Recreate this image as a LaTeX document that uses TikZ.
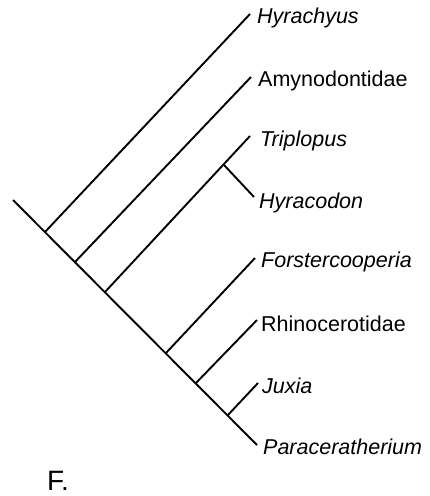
\documentclass[tikz,border=0pt]{standalone}
\usepackage{fontspec}
\setmainfont{Liberation Sans}
\begin{document}
\begin{tikzpicture}[x=1pt,y=-1pt,
  branch/.style={line width=1.9pt,line cap=butt},
  taxon/.style={anchor=base west,inner sep=0pt,font=\fontsize{21.5}{24}\selectfont},
  itaxon/.style={taxon,font=\fontsize{21.5}{24}\selectfont\itshape},
  panel/.style={anchor=base west,inner sep=0pt,font=\fontsize{28}{30}\selectfont}]
\useasboundingbox (0,0) rectangle (430,496);
% main stem
\coordinate (r) at (13,200);
\coordinate (p) at (257,445);
\coordinate (j1) at (45,232);
\coordinate (j2) at (75,262);
\coordinate (j3) at (105,292);
\coordinate (j4) at (166,353);
\coordinate (j5) at (196,383);
\coordinate (j6) at (228,415);
\coordinate (jh) at (224,165);
% tips
\coordinate (t1) at (250,14);
\coordinate (t2) at (251,77);
\coordinate (t3) at (250,136);
\coordinate (t4) at (254,197);
\coordinate (t5) at (255,258);
\coordinate (t6) at (257,320);
\coordinate (t7) at (258,383);
% labels
\node[itaxon] (l1) at (257,23) {Hyrachyus};
\node[taxon]  (l2) at (258,86) {Amynodontidae};
\node[itaxon] (l3) at (260,146) {Triplopus};
\node[itaxon] (l4) at (259,208) {Hyracodon};
\node[itaxon] (l5) at (261,267) {Forstercooperia};
\node[taxon]  (l6) at (261,331) {Rhinocerotidae};
\node[itaxon] (l7) at (262,393) {Juxia};
\node[itaxon] (l8) at (263,454) {Paraceratherium};
\node[panel]  (lf) at (47,490) {F.};
% branches
\draw[branch] (r) -- (p);
\draw[branch] (j1) -- (t1);
\draw[branch] (j2) -- (t2);
\draw[branch] (j3) -- (t3);
\draw[branch] (jh) -- (t4);
\draw[branch] (j4) -- (t5);
\draw[branch] (j5) -- (t6);
\draw[branch] (j6) -- (t7);
\end{tikzpicture}
\end{document}
